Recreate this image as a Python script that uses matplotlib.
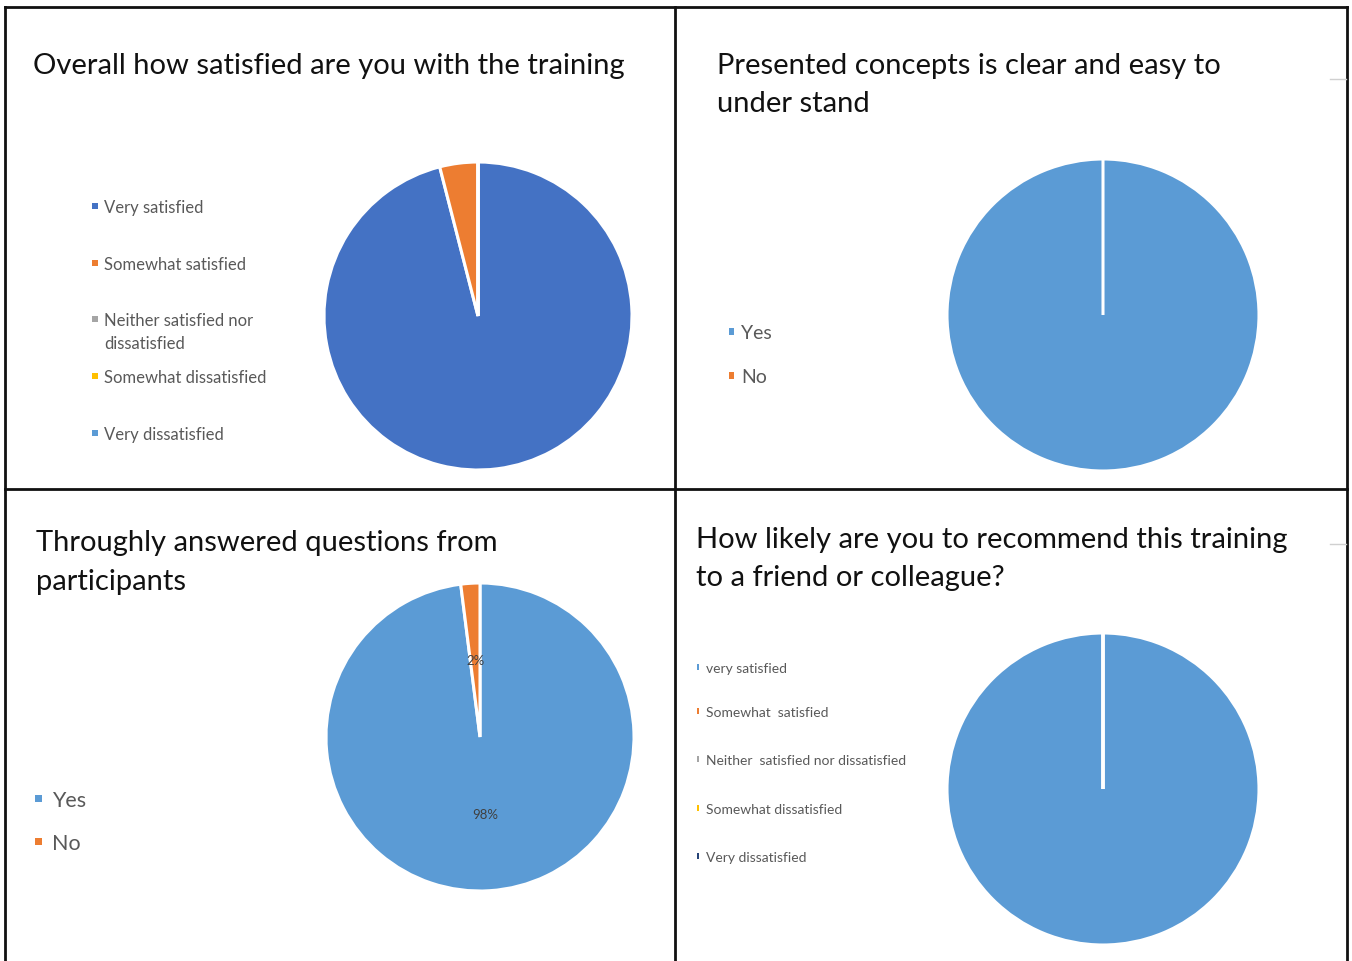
import matplotlib
matplotlib.use("Agg")
import matplotlib.pyplot as plt
from matplotlib.patches import Rectangle
from matplotlib.lines import Line2D

plt.rcParams['font.family'] = ['Lato', 'DejaVu Sans']

# ---- data ----
q1_title = "Overall how satisfied are you with the training"
q1_labels = ["Very satisfied", "Somewhat satisfied", "Neither satisfied nor\ndissatisfied",
             "Somewhat dissatisfied", "Very dissatisfied"]
q1_values = [96, 4, 0, 0, 0]
q1_colors = ["#4472C4", "#ED7D31", "#A5A5A5", "#FFC000", "#5B9BD5"]

q2_title = "Presented concepts is clear and easy to\nunder stand"
q2_labels = ["Yes", "No"]
q2_values = [100, 0]
q2_colors = ["#5B9BD5", "#ED7D31"]

q3_title = "Throughly answered questions from\nparticipants"
q3_labels = ["Yes", "No"]
q3_values = [98, 2]
q3_colors = ["#5B9BD5", "#ED7D31"]

q4_title = "How likely are you to recommend this training\nto a friend or colleague?"
q4_labels = ["very satisfied", "Somewhat  satisfied", "Neither  satisfied nor dissatisfied",
             "Somewhat dissatisfied", "Very dissatisfied"]
q4_values = [100, 0, 0, 0, 0]
q4_colors = ["#5B9BD5", "#ED7D31", "#A5A5A5", "#FFC000", "#264478"]

W, H = 1352, 962
fig = plt.figure(figsize=(W / 100, H / 100), dpi=100)
fig.patch.set_facecolor("white")


def fx(x):
    return x / W


def fy(y):
    return 1 - y / H


def pie_panel(cx, cy, r, values, colors, pct=False):
    ax = fig.add_axes([fx(cx - r), fy(cy + r), 2 * r / W, 2 * r / H])
    kw = dict(colors=colors, startangle=90, counterclock=False,
              wedgeprops=dict(edgecolor="white", linewidth=2.2))
    if pct:
        kw.update(autopct="%.0f%%", pctdistance=0.5,
                  textprops=dict(color="#404040", fontsize=9.5))
    ax.pie(values, **kw)
    ax.set_xlim(-1, 1)
    ax.set_ylim(-1, 1)
    ax.set_aspect("equal")
    ax.axis("off")
    return ax


def draw_legend(labels, colors, ys, mx, mw, mh, tx, size):
    # Excel-style legend: small swatch + grey label, first line aligned to swatch
    px = size * 100 / 72
    for lab, col, y in zip(labels, colors, ys):
        fig.add_artist(Rectangle((fx(mx), fy(y + mh / 2)), mw / W, mh / H,
                                 facecolor=col, edgecolor="none"))
        for i, line in enumerate(lab.split("\n")):
            fig.text(fx(tx), fy(y + 0.36 * px + i * 1.38 * px), line, fontsize=size,
                     color="#595959", va="baseline")


title_kw = dict(fontsize=21, color="#111111", linespacing=1.58)

# panel 1
pie_panel(478, 317, 154, q1_values, q1_colors)
fig.text(fx(33), fy(66), q1_title, va="center", **title_kw)
draw_legend(q1_labels, q1_colors, [207, 264, 320, 377, 434], 92, 6, 6, 104, 12)

# panel 2
pie_panel(1103, 316, 156, q2_values, q2_colors)
fig.text(fx(717), fy(85), q2_title, va="center", **title_kw)
draw_legend(q2_labels, q2_colors, [332, 376], 729, 5, 7, 741, 14)

# panel 3
pie_panel(480, 738, 154, q3_values, q3_colors, pct=True)
fig.text(fx(36), fy(562.5), q3_title, va="center", **title_kw)
draw_legend(q3_labels, q3_colors, [799, 842], 35, 7, 7, 52, 15.5)

# panel 4
pie_panel(1103, 790, 156, q4_values, q4_colors)
fig.text(fx(696), fy(559), q4_title, va="center", **title_kw)
draw_legend(q4_labels, q4_colors, [668, 712, 760, 809, 857], 697, 2, 6, 706, 10)

# panel frame lines
frame = [((5, 8), (1347, 8)), ((5, 8), (5, 962)), ((1347, 8), (1347, 962)),
         ((675, 8), (675, 962)), ((5, 490), (1347, 490))]
for (x0, y0), (x1, y1) in frame:
    fig.add_artist(Line2D([fx(x0), fx(x1)], [fy(y0), fy(y1)], color="#111111", lw=2))
for yy in (80, 545):
    fig.add_artist(Line2D([fx(1330), fx(1346)], [fy(yy), fy(yy)], color="#d0d0d0", lw=1))

fig.savefig("out.png", dpi=100, facecolor="white")
